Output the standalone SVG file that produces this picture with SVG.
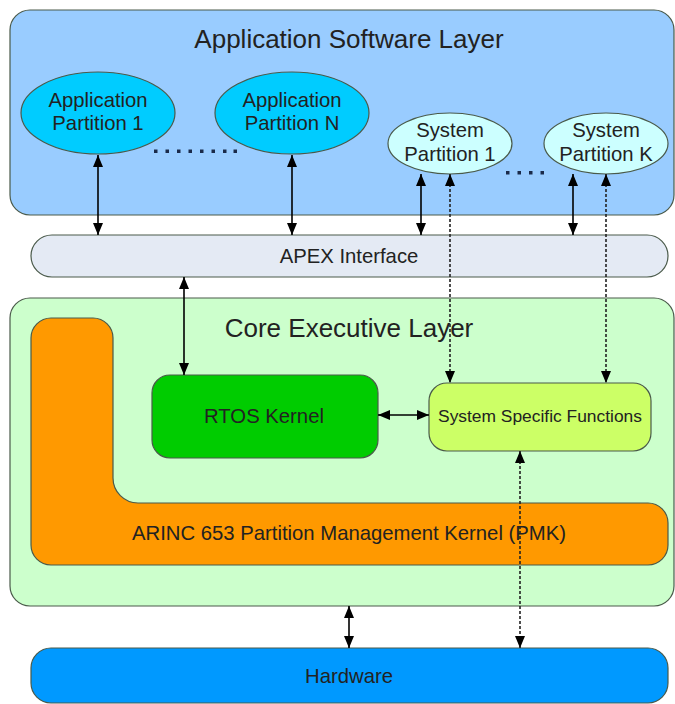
<svg xmlns="http://www.w3.org/2000/svg" width="675" height="704" viewBox="0 0 675 704">
  <style>
    text { font-family: "Liberation Sans", Arial, sans-serif; fill: #222; text-anchor: middle; }
    .layer-title { font-size: 26px; }
    .lbl { font-size: 20.3px; }
    .box { stroke: #4a5a4a; stroke-width: 1.2; }
    .conn { stroke: #000; stroke-width: 1.6; fill: none; marker-start: url(#ah); marker-end: url(#ah); }
    .dash { stroke: #222; stroke-dasharray: 3 2; }
  </style>
  <defs>
    <marker id="ah" viewBox="0 0 10 10" refX="10" refY="5" markerWidth="12" markerHeight="10" orient="auto-start-reverse" markerUnits="userSpaceOnUse" preserveAspectRatio="none">
      <path d="M0,0 L10,5 L0,10 Z" fill="#000"/>
    </marker>
  </defs>

  <rect width="675" height="704" fill="#fff"/>

  <!-- Application software layer -->
  <g id="app-layer">
    <rect class="box" x="10" y="10" width="664" height="205" rx="20" fill="#99ccff"/>
    <text class="layer-title" x="349" y="48">Application Software Layer</text>
  </g>

  <g id="app-partition-1">
    <ellipse class="box" cx="98" cy="113" rx="77" ry="41" fill="#00ccff"/>
    <text class="lbl" x="98" y="107">Application</text>
    <text class="lbl" x="98" y="130">Partition 1</text>
  </g>

  <g id="app-partition-n">
    <ellipse class="box" cx="292" cy="113" rx="77" ry="41" fill="#00ccff"/>
    <text class="lbl" x="292" y="107">Application</text>
    <text class="lbl" x="292" y="130">Partition N</text>
  </g>

  <g id="sys-partition-1">
    <ellipse class="box" cx="450" cy="143.5" rx="62" ry="30.5" fill="#ccffff"/>
    <text class="lbl" x="450" y="137">System</text>
    <text class="lbl" x="450" y="161">Partition 1</text>
  </g>

  <g id="sys-partition-k">
    <ellipse class="box" cx="606" cy="143.5" rx="62" ry="30.5" fill="#ccffff"/>
    <text class="lbl" x="606" y="137">System</text>
    <text class="lbl" x="606" y="161">Partition K</text>
  </g>

  <!-- ellipsis marks between partitions -->
  <g id="ellipses" fill="#1a2a4a">
    <rect x="154" y="149.5" width="3.5" height="3.5"/>
    <rect x="165.5" y="149.5" width="3.5" height="3.5"/>
    <rect x="177" y="149.5" width="3.5" height="3.5"/>
    <rect x="188.5" y="149.5" width="3.5" height="3.5"/>
    <rect x="200" y="149.5" width="3.5" height="3.5"/>
    <rect x="211.5" y="149.5" width="3.5" height="3.5"/>
    <rect x="223" y="149.5" width="3.5" height="3.5"/>
    <rect x="233.5" y="149.5" width="3.5" height="3.5"/>
    <rect x="506" y="171" width="3.5" height="3.5"/>
    <rect x="517.5" y="171" width="3.5" height="3.5"/>
    <rect x="529" y="171" width="3.5" height="3.5"/>
    <rect x="540.5" y="171" width="3.5" height="3.5"/>
  </g>

  <!-- APEX interface -->
  <g id="apex">
    <rect class="box" x="31" y="235" width="637" height="42" rx="21" fill="#e4eaf4"/>
    <text class="lbl" x="349" y="263">APEX Interface</text>
  </g>

  <!-- Core executive layer -->
  <g id="core-layer">
    <rect class="box" x="10" y="298" width="664" height="308" rx="20" fill="#ccffcc"/>
    <text class="layer-title" x="349" y="337">Core Executive Layer</text>
  </g>

  <g id="pmk">
    <path class="box" fill="#ff9900" d="M51,318 H93 A20,20 0 0 1 113,338 V478 A25,25 0 0 0 138,503 H648 A20,20 0 0 1 668,523 V545 A20,20 0 0 1 648,565 H51 A20,20 0 0 1 31,545 V338 A20,20 0 0 1 51,318 Z"/>
    <text class="lbl" x="349" y="540">ARINC 653 Partition Management Kernel (PMK)</text>
  </g>

  <g id="rtos">
    <rect class="box" x="152" y="375" width="226" height="83" rx="18" fill="#00cc00"/>
    <text class="lbl" x="264" y="423">RTOS Kernel</text>
  </g>

  <g id="ssf">
    <rect class="box" x="429" y="383" width="222" height="68" rx="18" fill="#ccff66"/>
    <text x="540" y="422" style="font-size:17.4px">System Specific Functions</text>
  </g>

  <!-- Hardware -->
  <g id="hardware">
    <rect class="box" x="31" y="648" width="637" height="55" rx="20" fill="#0099ff"/>
    <text class="lbl" x="349" y="683">Hardware</text>
  </g>

  <!-- Connectors -->
  <g id="connectors">
    <line class="conn" x1="98" y1="155" x2="98" y2="235"/>
    <line class="conn" x1="292" y1="155" x2="292" y2="235"/>
    <line class="conn" x1="421" y1="174" x2="421" y2="235"/>
    <line class="conn" x1="573" y1="174" x2="573" y2="235"/>
    <line class="conn dash" x1="450" y1="174" x2="450" y2="383"/>
    <line class="conn dash" x1="606" y1="174" x2="606" y2="383"/>
    <line class="conn" x1="184" y1="277" x2="184" y2="375"/>
    <line class="conn" x1="378" y1="415" x2="429" y2="415"/>
    <line class="conn dash" x1="520" y1="451" x2="520" y2="648"/>
    <line class="conn" x1="349" y1="606" x2="349" y2="648"/>
  </g>
</svg>
